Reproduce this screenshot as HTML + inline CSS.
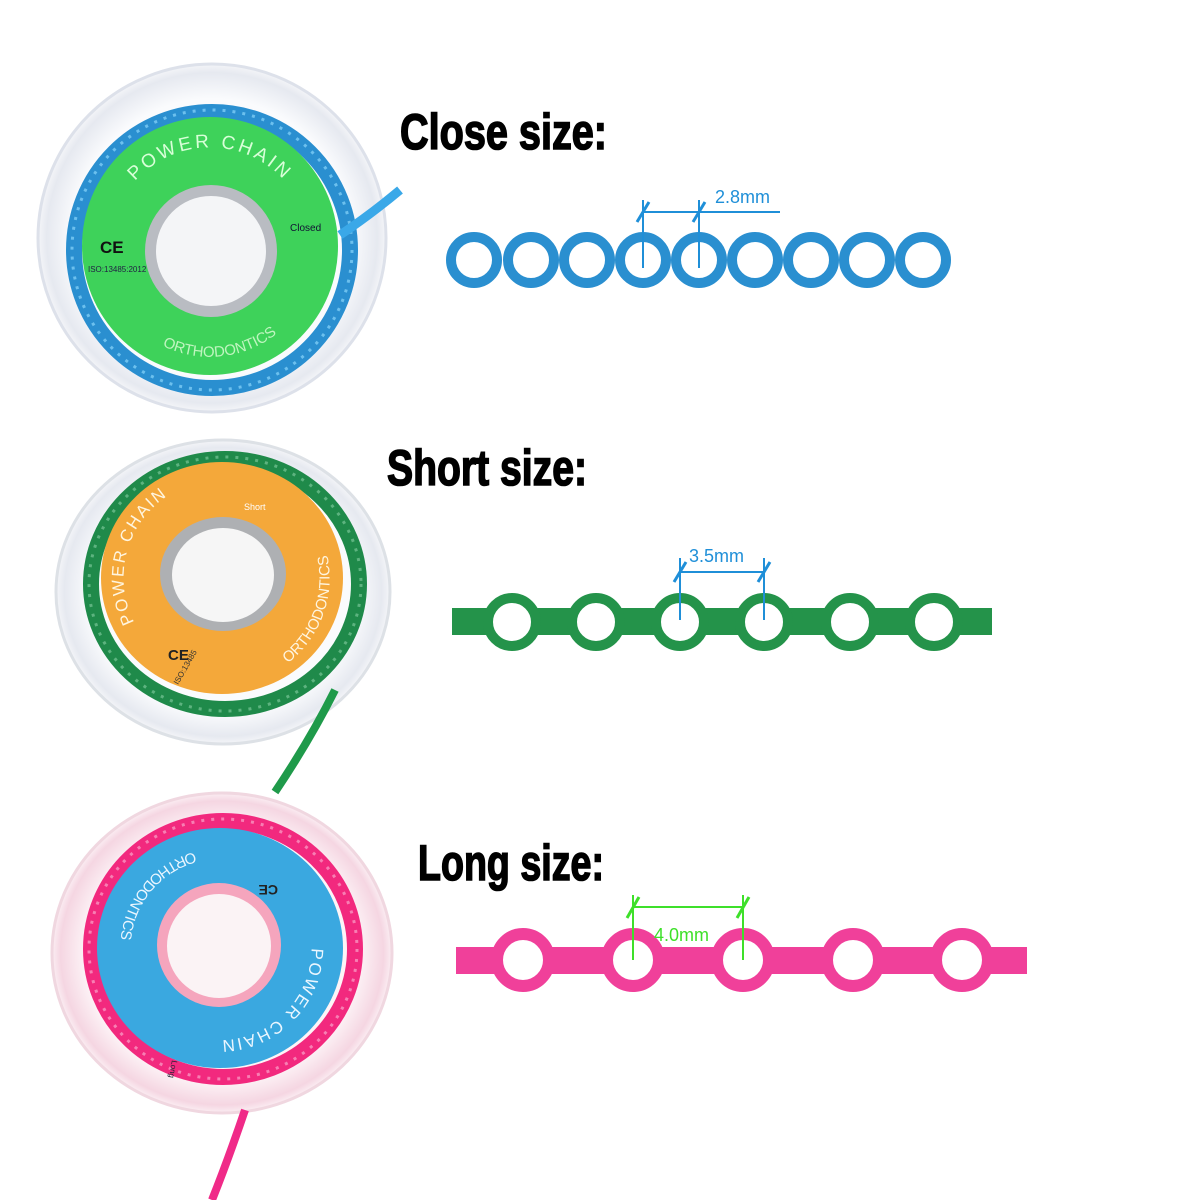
<!DOCTYPE html>
<html><head><meta charset="utf-8"><style>
html,body{margin:0;padding:0;background:#fff;}
svg{display:block}
</style></head><body>
<svg width="1200" height="1200" viewBox="0 0 1200 1200" xmlns="http://www.w3.org/2000/svg" font-family="Liberation Sans, sans-serif">
<rect width="1200" height="1200" fill="#fff"/>
<defs>
<radialGradient id="disk" cx="50%" cy="50%" r="50%">
<stop offset="0.8" stop-color="#fafbfd"/><stop offset="0.95" stop-color="#e6e9f0"/><stop offset="1" stop-color="#f4f5f8"/>
</radialGradient>
<radialGradient id="diskp" cx="50%" cy="50%" r="50%">
<stop offset="0.8" stop-color="#fdf4f7"/><stop offset="0.95" stop-color="#f5d6e2"/><stop offset="1" stop-color="#fbeef3"/>
</radialGradient>
<path id="p1a" d="M119,206 A100 100 0 0 1 301,206"/>
<path id="p1b" d="M116,302 A108 108 0 0 0 304,302"/>
<path id="p2a" d="M159,653 A98 98 0 0 1 205,481"/>
<path id="p2b" d="M241,684 A108 108 0 0 0 305,509"/>
<path id="p3a" d="M237,850 A100 100 0 0 0 126,982"/>
<path id="p3b" d="M306,917 A92 92 0 0 1 189,1035"/>
</defs>

<!-- Spool 1 -->
<circle cx="212" cy="238" r="174" fill="url(#disk)" stroke="#dde1ea" stroke-width="3"/>
<circle cx="212" cy="250" r="138" fill="none" stroke="#2a8fd0" stroke-width="16"/>
<circle cx="212" cy="250" r="140" fill="none" stroke="#6cc0ee" stroke-width="3" stroke-dasharray="3 7"/>
<ellipse cx="210" cy="246" rx="128" ry="129" fill="#3ed25a"/>
<circle cx="211" cy="251" r="66" fill="#b9bcc2"/>
<circle cx="211" cy="251" r="55" fill="#f4f5f7"/>
<text font-size="19" fill="#d8ffd8" letter-spacing="3"><textPath href="#p1a" startOffset="50%" text-anchor="middle">POWER CHAIN</textPath></text>
<text font-size="15" fill="#bff5bf"><textPath href="#p1b" startOffset="55%" text-anchor="middle">ORTHODONTICS</textPath></text>
<text x="290" y="231" font-size="10" fill="#113">Closed</text>
<text x="100" y="253" font-size="17" font-weight="bold" fill="#111">CE</text>
<text x="88" y="272" font-size="8" fill="#224">ISO:13485:2012</text>
<path d="M340 235 Q370 215 400 190" stroke="#3aa8e8" stroke-width="9" fill="none"/>

<!-- Spool 2 -->
<ellipse cx="223" cy="592" rx="167" ry="152" fill="url(#disk)" stroke="#dde1e6" stroke-width="3"/>
<ellipse cx="225" cy="584" rx="134" ry="125" fill="none" stroke="#1f8a4a" stroke-width="16"/>
<ellipse cx="225" cy="584" rx="136" ry="127" fill="none" stroke="#5db37f" stroke-width="3" stroke-dasharray="3 7"/>
<ellipse cx="222" cy="578" rx="121" ry="116" fill="#f4a83a"/>
<ellipse cx="223" cy="574" rx="63" ry="57" fill="#aeb0b3"/>
<ellipse cx="223" cy="575" rx="51" ry="47" fill="#f6f6f6"/>
<text font-size="17" fill="#fff5df" letter-spacing="2"><textPath href="#p2a" startOffset="50%" text-anchor="middle">POWER CHAIN</textPath></text>
<text font-size="15" fill="#fff5df"><textPath href="#p2b" startOffset="50%" text-anchor="middle">ORTHODONTICS</textPath></text>
<text x="168" y="660" font-size="15" font-weight="bold" fill="#222">CE</text>
<text x="178" y="685" font-size="8" fill="#333" transform="rotate(-60 178 685)">ISO:13485</text>
<text x="244" y="510" font-size="9" fill="#fff">Short</text>
<path d="M335 690 Q310 740 275 792" stroke="#1f9a4a" stroke-width="8" fill="none"/>

<!-- Spool 3 -->
<ellipse cx="222" cy="953" rx="170" ry="160" fill="url(#diskp)" stroke="#f0d7e0" stroke-width="3"/>
<ellipse cx="223" cy="949" rx="132" ry="128" fill="none" stroke="#f2297e" stroke-width="16"/>
<ellipse cx="223" cy="949" rx="134" ry="130" fill="none" stroke="#f77fb3" stroke-width="3" stroke-dasharray="3 7"/>
<ellipse cx="220" cy="948" rx="123" ry="120" fill="#3aa8e0"/>
<circle cx="219" cy="945" r="62" fill="#f5a5bd"/>
<circle cx="219" cy="946" r="52" fill="#fbf3f5"/>
<text font-size="15" fill="#eaf6ff"><textPath href="#p3a" startOffset="50%" text-anchor="middle">ORTHODONTICS</textPath></text>
<text font-size="17" fill="#eaf6ff" letter-spacing="2"><textPath href="#p3b" startOffset="50%" text-anchor="middle">POWER CHAIN</textPath></text>
<text x="278" y="885" font-size="14" font-weight="bold" fill="#222" transform="rotate(180 278 885)">CE</text>
<text x="172" y="1060" font-size="8" fill="#223" transform="rotate(100 172 1060)">Long</text>
<path d="M245 1110 Q228 1160 212 1200" stroke="#f02a88" stroke-width="8" fill="none"/>

<!-- Titles -->
<g font-family="Liberation Sans Narrow, Liberation Sans, sans-serif" font-weight="bold" font-size="50" fill="#000" stroke="#000" stroke-width="1.6">
<text x="400" y="149" textLength="207" lengthAdjust="spacingAndGlyphs">Close size:</text>
<text x="387" y="485" textLength="200" lengthAdjust="spacingAndGlyphs">Short size:</text>
<text x="418" y="880" textLength="186" lengthAdjust="spacingAndGlyphs">Long size:</text>
</g>

<!-- Close chain -->
<g fill="none" stroke="#2a8fd0" stroke-width="10">
<circle cx="474" cy="260" r="23"/><circle cx="531" cy="260" r="23"/><circle cx="587" cy="260" r="23"/>
<circle cx="643" cy="260" r="23"/><circle cx="699" cy="260" r="23"/><circle cx="755" cy="260" r="23"/>
<circle cx="811" cy="260" r="23"/><circle cx="867" cy="260" r="23"/><circle cx="923" cy="260" r="23"/>
</g>
<g stroke="#1f8fd8" stroke-width="2" fill="none">
<line x1="643" y1="200" x2="643" y2="268"/><line x1="699" y1="200" x2="699" y2="268"/>
<line x1="643" y1="212" x2="780" y2="212"/>
<line x1="637" y1="222" x2="649" y2="202" stroke-width="3"/><line x1="693" y1="222" x2="705" y2="202" stroke-width="3"/>
</g>
<text x="715" y="203" font-size="18" fill="#1f8fd8">2.8mm</text>

<!-- Short chain -->
<rect x="452" y="608" width="540" height="27" fill="#24934a"/>
<g fill="#fff" stroke="#24934a" stroke-width="10">
<circle cx="512" cy="622" r="24"/><circle cx="596" cy="622" r="24"/><circle cx="680" cy="622" r="24"/>
<circle cx="764" cy="622" r="24"/><circle cx="850" cy="622" r="24"/><circle cx="934" cy="622" r="24"/>
</g>
<g stroke="#1f8fd8" stroke-width="2" fill="none">
<line x1="680" y1="558" x2="680" y2="620"/><line x1="764" y1="558" x2="764" y2="620"/>
<line x1="680" y1="572" x2="764" y2="572"/>
<line x1="674" y1="582" x2="686" y2="562" stroke-width="3"/><line x1="758" y1="582" x2="770" y2="562" stroke-width="3"/>
</g>
<text x="689" y="562" font-size="18" fill="#1f8fd8">3.5mm</text>

<!-- Long chain -->
<rect x="456" y="947" width="571" height="27" fill="#f0409a"/>
<g fill="#fff" stroke="#f0409a" stroke-width="12">
<circle cx="523" cy="960" r="26"/><circle cx="633" cy="960" r="26"/><circle cx="743" cy="960" r="26"/>
<circle cx="853" cy="960" r="26"/><circle cx="962" cy="960" r="26"/>
</g>
<g stroke="#3ee02a" stroke-width="2" fill="none">
<line x1="633" y1="895" x2="633" y2="960"/><line x1="743" y1="895" x2="743" y2="960"/>
<line x1="633" y1="907" x2="743" y2="907"/>
<line x1="627" y1="918" x2="639" y2="897" stroke-width="3"/><line x1="737" y1="918" x2="749" y2="897" stroke-width="3"/>
</g>
<text x="654" y="941" font-size="18" fill="#3ee02a">4.0mm</text>
</svg>
</body></html>
